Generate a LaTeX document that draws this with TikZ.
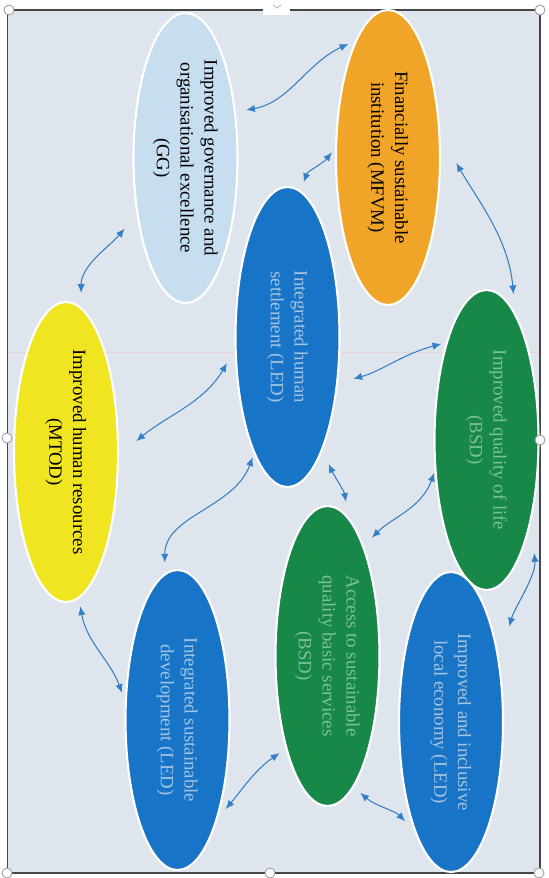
\documentclass[tikz,border=0pt]{standalone}
\definecolor{pane_bg}{RGB}{223, 229, 236}
\definecolor{frame_grey}{RGB}{70, 70, 72}
\definecolor{scan_pink}{RGB}{232, 210, 222}
\definecolor{gov_light}{RGB}{198, 222, 240}
\definecolor{fin_orange}{RGB}{240, 164, 40}
\definecolor{led_blue}{RGB}{24, 116, 198}
\definecolor{bsd_green}{RGB}{24, 136, 72}
\definecolor{hr_yellow}{RGB}{241, 228, 32}
\definecolor{txt_blue}{RGB}{164, 196, 226}
\definecolor{txt_green}{RGB}{124, 192, 156}
\definecolor{link_blue}{RGB}{52, 128, 200}
\usepackage{fontspec}
\setmainfont{Liberation Serif}
\usepackage{graphicx}
\usepackage{tikz}
\usetikzlibrary{arrows.meta, shapes.geometric}

\newcommand{\vtext}[1]{\rotatebox{-90}{\begin{tabular}{@{}c@{}}#1\end{tabular}}}

\begin{document}
\begin{tikzpicture}[
        oval/.style={ellipse, draw=white, line width=1.2pt, inner sep=0pt, outer sep=0pt,
                     minimum width=2.08cm, minimum height=6cm,
                     font=\fontsize{10.7}{13.6}\selectfont},
        link/.style={<->, >={Latex[length=5pt, width=4.2pt]}, draw=link_blue, line width=0.6pt},
        handle/.style={circle, draw=gray!75, fill=white, line width=0.5pt,
                       minimum size=0.2cm, inner sep=0pt},
      ]
        \useasboundingbox (0,0) rectangle (10.96,-17.56);
        \fill[white] (0,0) rectangle (10.96,-17.56);
        \fill[pane_bg] (0.15,-0.20) rectangle (10.80,-17.46);
        \draw[scan_pink, line width=0.4pt] (0.15,-7.04) -- (10.80,-7.04);
        \draw[frame_grey, line width=0.8pt] (0.15,-0.20) rectangle (10.80,-17.46);
        \fill[white] (5.26,0) rectangle (5.80,-0.30);
        \draw[gray!60, line width=0.5pt] (5.46,-0.10) -- (5.54,-0.16) -- (5.62,-0.10);

        \node[oval, fill=gov_light, minimum height=5.8cm] (gg) at (3.71,-3.16)
            {\vtext{Improved governance and\\organisational excellence\\(GG)}};
        \node[oval, fill=fin_orange, minimum height=5.9cm] (mf) at (7.76,-3.15)
            {\vtext{Financially sustainable\\institution (MFVM)}};
        \node[oval, fill=led_blue, text=txt_blue] (hs) at (5.75,-6.74)
            {\vtext{Integrated human\\settlement (LED)}};
        \node[oval, fill=bsd_green, text=txt_green] (ql) at (9.73,-8.80)
            {\vtext{Improved quality of life\\(BSD)}};
        \node[oval, fill=hr_yellow] (hr) at (1.32,-9.04)
            {\vtext{Improved human resources\\(MTOD)}};
        \node[oval, fill=bsd_green, text=txt_green] (bs) at (6.55,-13.12)
            {\vtext{Access to sustainable\\quality basic services\\(BSD)}};
        \node[oval, fill=led_blue, text=txt_blue] (sd) at (3.55,-14.40)
            {\vtext{Integrated sustainable\\development (LED)}};
        \node[oval, fill=led_blue, text=txt_blue] (le) at (9.02,-14.44)
            {\vtext{Improved and inclusive\\local economy (LED)}};

        \draw[link, shorten <=0.23cm, shorten >=0.18cm] (gg.43) to[out=10, in=205] (mf.105);
        \draw[link, shorten <=0.20cm, shorten >=0.13cm] (hs.85) to[out=70, in=230] (mf.169);
        \draw[link, shorten <=0.68cm, shorten >=0.42cm] (mf.25) to[out=-60, in=95] (ql.77);
        \draw[link, shorten <=0.40cm, shorten >=0.31cm] (gg.229) to[out=230, in=90] (hr.84);
        \draw[link, shorten <=0.34cm, shorten >=0.12cm] (hs.-43) to[out=15, in=195] (ql.112);
        \draw[link, shorten <=0.35cm, shorten >=0.48cm] (hs.192) to[out=240, in=40] (hr.-5);
        \draw[link, shorten <=0.10cm, shorten >=0.24cm] (hs.254) to[out=250, in=90] (sd.95);
        \draw[link, shorten <=0.32cm, shorten >=0.36cm] (hs.-73) to[out=-65, in=100] (bs.81);
        \draw[link, shorten <=0.07cm, shorten >=0.25cm] (ql.210) to[out=250, in=45] (bs.72);
        \draw[link, shorten <=0.72cm, shorten >=0.79cm] (ql.-60) to[out=-85, in=75] (le.50);
        \draw[link, shorten <=0.18cm, shorten >=0.22cm] (hr.-85) to[out=-80, in=110] (sd.162);
        \draw[link, shorten <=0.30cm, shorten >=0.17cm] (sd.-69) to[out=50, in=215] (bs.246);
        \draw[link, shorten <=0.19cm, shorten >=0.29cm] (bs.-79) to[out=-40, in=135] (le.252);

        \node[handle] (htl) at (0.18,-0.20)  {};
        \node[handle] (htr) at (10.80,-0.20) {};
        \node[handle] (hml) at (0.14,-8.76)  {};
        \node[handle] (hmr) at (10.80,-8.80) {};
        \node[handle] (hbl) at (0.14,-17.46) {};
        \node[handle] (hbm) at (5.40,-17.46) {};
        \node[handle] (hbr) at (10.78,-17.46) {};
      \end{tikzpicture}
\end{document}
